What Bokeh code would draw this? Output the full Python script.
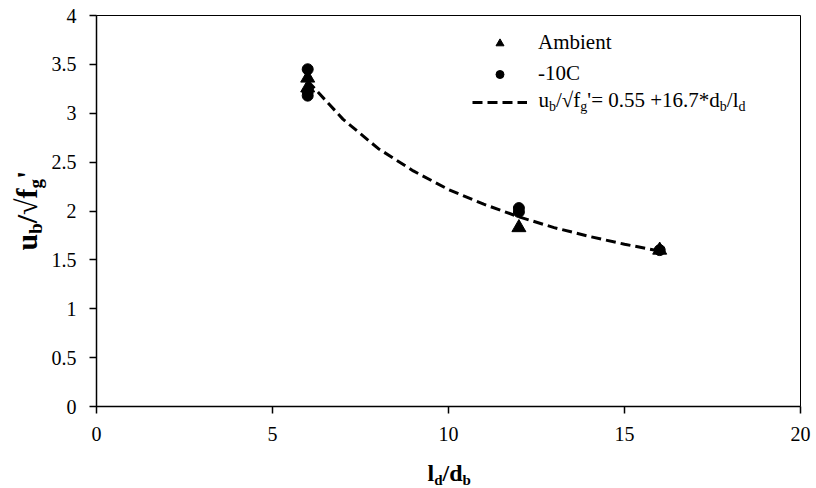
import math
from bokeh.plotting import figure
from bokeh.layouts import column, row
from bokeh.models import Label, Legend, LegendItem, Range1d, FixedTicker
from bokeh.embed import file_html
from bokeh.resources import INLINE

# ---- data ----
amb_x = [6, 6, 12, 16]
amb_y = [3.36, 3.26, 1.83, 1.60]
cold_x = [6, 6, 6, 12, 12, 16]
cold_y = [3.45, 3.22, 3.18, 2.03, 1.99, 1.60]
fit_x = [6, 7, 8, 9, 10, 11, 12, 13, 14, 15, 16]
fit_y = [3.33, 2.94, 2.64, 2.41, 2.22, 2.07, 1.94, 1.83, 1.74, 1.66, 1.59]
x_ticks = [0, 5, 10, 15, 20]
y_ticks = [0, 0.5, 1, 1.5, 2, 2.5, 3, 3.5, 4]
legend_labels = ["Ambient", "-10C"]

SERIF = "Liberation Serif"
YW = 48          # width of the strip holding the y title
MAIN_H = 450     # height of the main figure
XH = 488 - MAIN_H
FRAME_BOTTOM = 406
SHIFT = 0.37     # rendered baseline sits this many em below the anchor

p = figure(width=816 - YW, height=MAIN_H, x_range=Range1d(0, 20), y_range=Range1d(0, 4),
           output_backend="svg", toolbar_location=None,
           min_border_left=96 - YW, min_border_right=16, min_border_top=15,
           min_border_bottom=MAIN_H - FRAME_BOTTOM)
p.background_fill_color = "white"
p.border_fill_color = "white"
p.outline_line_color = "black"
p.outline_line_width = 1
p.xgrid.visible = False
p.ygrid.visible = False

for ax in (p.xaxis[0], p.yaxis[0]):
    ax.axis_line_color = "black"
    ax.axis_line_width = 1.5
    ax.major_tick_line_color = "black"
    ax.major_tick_line_width = 1.5
    ax.major_tick_in = 0
    ax.major_tick_out = 7
    ax.minor_tick_line_color = None
    ax.major_label_text_font = SERIF
    ax.major_label_text_font_size = "20px"
    ax.major_label_text_color = "black"

p.xaxis.ticker = FixedTicker(ticks=x_ticks)
p.yaxis.ticker = FixedTicker(ticks=y_ticks)
p.xaxis.major_label_standoff = 13
p.yaxis.major_label_standoff = 13

r_fit = p.line(fit_x, fit_y, line_color="black", line_width=3, line_dash="10 5")
r_amb = p.scatter(amb_x, amb_y, marker="triangle", size=14, fill_color="black", line_color="black")
r_cold = p.scatter(cold_x, cold_y, marker="circle", size=11, fill_color="black", line_color="black")

legend = Legend(items=[LegendItem(label=legend_labels[0], renderers=[r_amb]),
                       LegendItem(label=legend_labels[1], renderers=[r_cold]),
                       LegendItem(label=" ", renderers=[r_fit])],
                location=(376, 294), orientation="vertical",
                glyph_width=55, glyph_height=20, label_height=20, spacing=6,
                padding=0, margin=0, label_standoff=11,
                border_line_color=None, background_fill_alpha=0,
                label_text_font=SERIF, label_text_font_size="21px", label_text_color="black")
p.add_layout(legend, "center")


def strip(width, height):
    f = figure(width=width, height=height, x_range=Range1d(0, 1), y_range=Range1d(0, 1),
               output_backend="svg", toolbar_location=None,
               x_axis_location=None, y_axis_location=None,
               min_border=0, min_border_left=0, min_border_right=0,
               min_border_top=0, min_border_bottom=0)
    f.xgrid.visible = False
    f.ygrid.visible = False
    f.outline_line_color = None
    f.background_fill_color = "white"
    f.border_fill_color = "white"
    return f


def add_pieces(fig, pieces, bx, by, rotated=False, bold=False, main=21, sub=14, drop=4):
    """bx, by: baseline start in frame screen units (y up)."""
    pos = 0.0
    for text, is_sub, w in pieces:
        size = sub if is_sub else main
        d = drop if is_sub else 0
        if not rotated:
            x = bx + pos
            y = by - d + SHIFT * size
        else:
            x = bx + d - SHIFT * size
            y = by + pos
        fig.add_layout(Label(x=x, y=y, x_units="screen", y_units="screen", text=text,
                             angle=math.pi / 2 if rotated else 0.0,
                             text_align="left", text_baseline="alphabetic",
                             text_font=SERIF, text_font_size=f"{size}px",
                             text_font_style="bold" if bold else "normal",
                             text_color="black"))
        pos += w * size


# legend equation: u_b/√f_g'= 0.55 +16.7*d_b/l_d   (baseline at canvas y 107)
eq = [("u", False, 0.5), ("b", True, 0.5), ("/√f", False, 1.16), ("g", True, 0.5),
      ("'= 0.55 +16.7*d", False, 6.31), ("b", True, 0.5), ("/l", False, 0.556), ("d", True, 0.5)]
add_pieces(p, eq, 442, FRAME_BOTTOM - 107)

# x axis title: l_d/d_b  (strip frame bottom = canvas 488, baseline at canvas 481)
xfig = strip(816, XH)
xl = [("l", False, 0.278), ("d", True, 0.556), ("/d", False, 0.834), ("b", True, 0.556)]
add_pieces(xfig, xl, 427, 488 - 481, bold=True, main=24, sub=15, drop=4)

# y axis title: u_b/√f_g '  (strip frame shares main frame: bottom at canvas 406)
yfig = strip(YW, MAIN_H)
yl = [("u", False, 0.556), ("b", True, 0.556), ("/√f", False, 1.16), ("g", True, 0.5), (" '", False, 0.53)]
add_pieces(yfig, yl, 37, FRAME_BOTTOM - 250, rotated=True, bold=True, main=30, sub=19, drop=5)

layout = column(row(yfig, p, spacing=0), xfig, spacing=0)
open("out.html", "w").write(file_html(layout, INLINE))
